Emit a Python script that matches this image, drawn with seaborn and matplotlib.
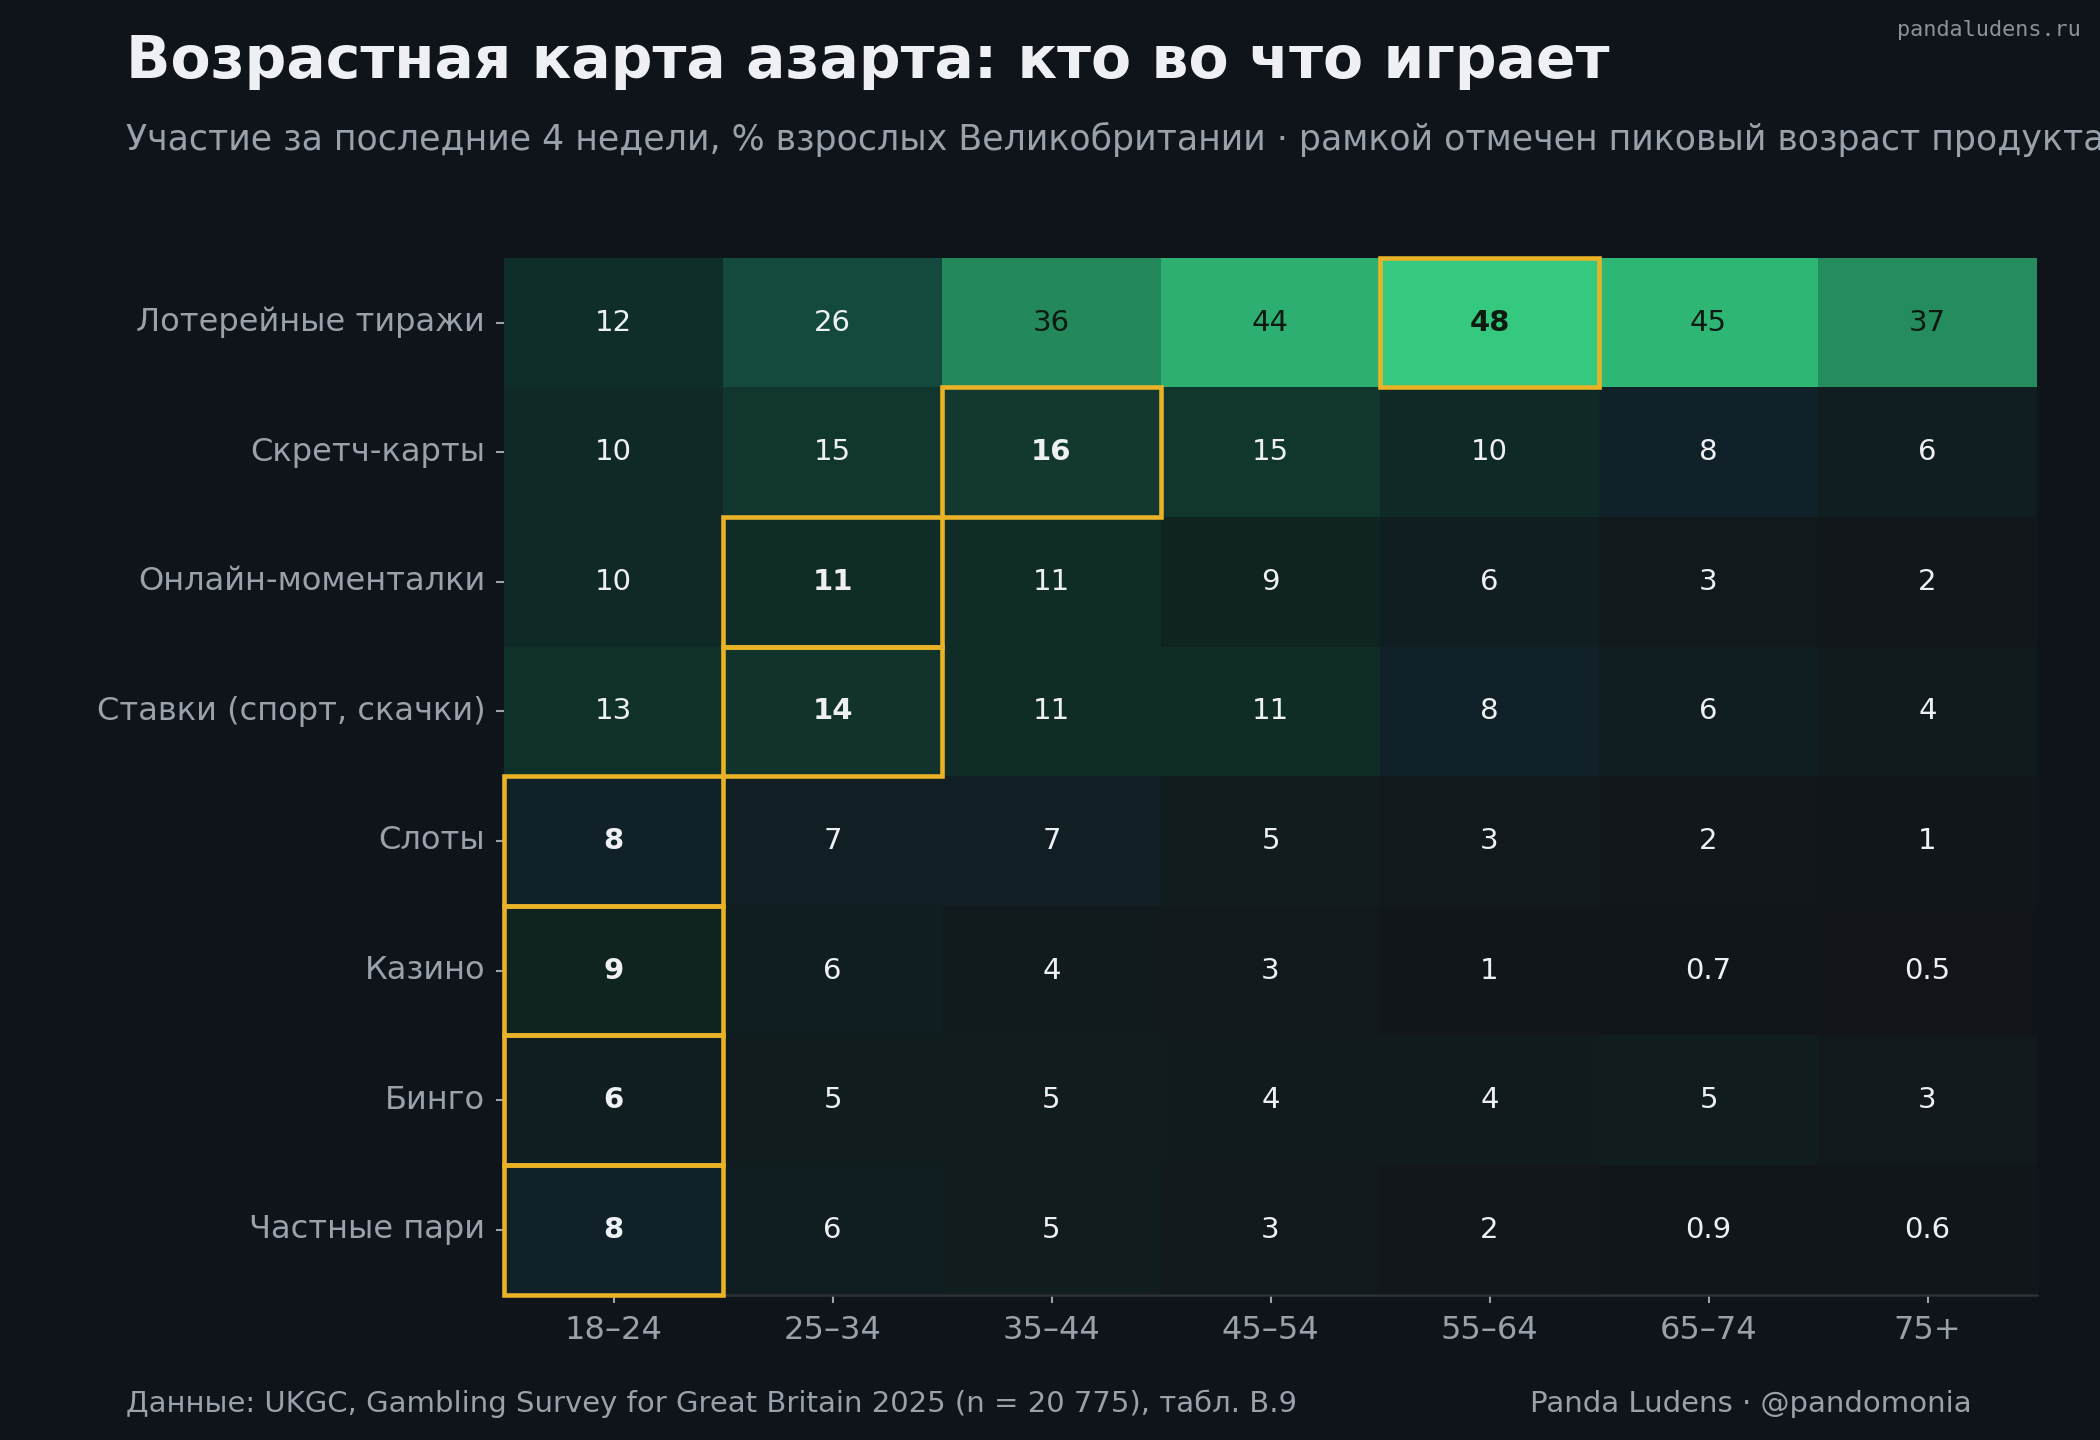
import numpy as np
import pandas as pd
import matplotlib
matplotlib.use("Agg")
import matplotlib.pyplot as plt
from matplotlib.colors import LinearSegmentedColormap
from matplotlib.patches import Rectangle
import seaborn as sns

# Data: % of GB adults who took part in the last 4 weeks
products = ["Лотерейные тиражи", "Скретч-карты", "Онлайн-моменталки",
            "Ставки (спорт, скачки)", "Слоты", "Казино", "Бинго", "Частные пари"]
age_groups = ["18–24", "25–34", "35–44", "45–54", "55–64", "65–74", "75+"]

lottery = [12, 26, 36, 44, 48, 45, 37]
scratch = [10, 15, 16, 15, 10, 8, 6]
instant = [10, 11, 11, 9, 6, 3, 2]
betting = [13, 14, 11, 11, 8, 6, 4]
slots = [8, 7, 7, 5, 3, 2, 1]
casino = [9, 6, 4, 3, 1, 0.7, 0.5]
bingo = [6, 5, 5, 4, 4, 5, 3]
private_bets = [8, 6, 5, 3, 2, 0.9, 0.6]

df = pd.DataFrame([lottery, scratch, instant, betting, slots, casino, bingo, private_bets],
                  index=products, columns=age_groups)

BG = "#0f131a"
TXT = "#eef0f3"
MUTED = "#9aa1aa"
GOLD = "#eab226"

sns.set_theme(style="dark")
plt.rcParams["font.family"] = ["DejaVu Sans"]

# dark -> blue-teal -> green
cmap = LinearSegmentedColormap.from_list(
    "azart",
    [(0.0, "#11151a"), (0.04, "#11171a"), (0.10, "#111c1e"), (0.145, "#111f24"),
     (0.167, "#10212a"), (0.1875, "#0f2421"), (0.21, "#0f2a26"), (0.27, "#10302a"),
     (0.33, "#12382f"), (0.54, "#144a3e"), (0.75, "#23875a"), (0.92, "#2cb070"),
     (1.0, "#34c97e")])

labels = df.map(lambda v: f"{v:g}" if v < 1 else f"{int(round(v))}")

fig = plt.figure(figsize=(14, 9.6), dpi=150, facecolor=BG)
ax = fig.add_axes([0.240, 0.101, 0.730, 0.720])
ax.set_facecolor(BG)

sns.heatmap(df, ax=ax, cmap=cmap, vmin=0, vmax=48, cbar=False,
            annot=labels, fmt="", annot_kws={"fontsize": 14})

# peak age per product gets bold text and a gold frame
peaks = np.argmax(df.values, axis=1)
vals = df.values.ravel()
for k, t in enumerate(ax.texts):
    i, j = divmod(k, len(age_groups))
    v = vals[k]
    t.set_color("#0c1a12" if v >= 30 else "#eef0f3")
    if j == peaks[i]:
        t.set_fontweight("bold")

for i, j in enumerate(peaks):
    ax.add_patch(Rectangle((j, i), 1, 1, fill=False, edgecolor=GOLD,
                           linewidth=2.2, zorder=5, clip_on=False))

ax.set_xlabel("")
ax.set_ylabel("")
ax.tick_params(axis="both", colors=MUTED, labelsize=15.4, length=4, width=1, pad=5,
               bottom=True, left=True)
ax.tick_params(axis="x", labelrotation=0, pad=6)
ax.tick_params(axis="y", labelrotation=0)
for lab in ax.get_xticklabels() + ax.get_yticklabels():
    lab.set_color(MUTED)
for s in ["top", "right", "left"]:
    ax.spines[s].set_visible(False)
ax.spines["bottom"].set_visible(True)
ax.spines["bottom"].set_color("#2c3138")
ax.spines["bottom"].set_linewidth(1.2)

fig.text(0.060, 0.957, "Возрастная карта азарта: кто во что играет",
         color=TXT, fontsize=28, fontweight="bold", va="center", ha="left")
fig.text(0.060, 0.903,
         "Участие за последние 4 недели, % взрослых Великобритании · рамкой отмечен пиковый возраст продукта",
         color=MUTED, fontsize=16.7, va="center", ha="left")
fig.text(0.060, 0.025,
         "Данные: UKGC, Gambling Survey for Great Britain 2025 (n = 20 775), табл. B.9",
         color=MUTED, fontsize=14, va="center", ha="left")
fig.text(0.939, 0.025, "Panda Ludens · @pandomonia",
         color=MUTED, fontsize=14, va="center", ha="right")
fig.text(0.991, 0.979, "pandaludens.ru", color="#8c9199", fontsize=10.5,
         family="DejaVu Sans Mono", va="center", ha="right")

fig.savefig("out.png", dpi=150, facecolor=BG)
